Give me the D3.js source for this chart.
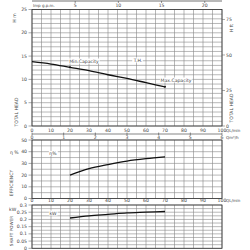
<!DOCTYPE html>
<html><head><meta charset="utf-8">
<script src="https://cdn.jsdelivr.net/npm/d3@7"></script>
<style>body{margin:0;background:#fff}svg{display:block}text{font-family:"DejaVu Sans",sans-serif;fill:#444}</style>
</head><body>
<svg id="c" width="250" height="250"></svg>
<script>
const flowLmin = [0, 10, 20, 30, 40, 50, 60, 70];
const headM = [13.8, 13.3, 12.6, 11.9, 11.0, 10.2, 9.3, 8.4];
const effFlow = [20, 30, 40, 50, 60, 70];
const effPct = [20, 25.5, 29, 32, 34, 35.5];
const powFlow = [20, 30, 40, 50, 60, 70];
const powKW = [0.21, 0.225, 0.235, 0.245, 0.25, 0.255];
const qTicks = [0, 10, 20, 30, 40, 50, 60, 70, 80, 90, 100];
const m3hTicks = [0, 1, 2, 3, 4, 5, 6];
const impTicks = [5, 10, 15, 20];
const headTicks = [0, 5, 10, 15, 20, 25];
const ftTicks = [0, 25, 50, 75];
const effTicks = [0, 10, 20, 30, 40, 50];
const powTicks = [0, 0.05, 0.1, 0.15, 0.2, 0.25, 0.3];
const powLabels = ["0", "0.05", "0.1", "0.15", "0.2", "0.25", "0.3"];

const svg = d3.select("#c");
const x = d3.scaleLinear().domain([0, 100]).range([32, 222]);
const yH = d3.scaleLinear().domain([0, 25]).range([126, 9.5]);
const yE = d3.scaleLinear().domain([0, 50]).range([198.5, 140]);
const yP = d3.scaleLinear().domain([0, 0.3]).range([248.3, 205]);
const fs = 4.6;

function panel(y, step) {
  const g = svg.append("g");
  const [y0, y1] = y.domain();
  g.selectAll(".v").data(d3.range(0, 100.01, 5)).join("line")
    .attr("x1", d => x(d)).attr("x2", d => x(d)).attr("y1", y.range()[0]).attr("y2", y.range()[1])
    .attr("stroke", "#888").attr("stroke-width", 0.6);
  g.selectAll(".h").data(d3.range(y0, y1 + step / 2, step)).join("line")
    .attr("x1", x(0)).attr("x2", x(100)).attr("y1", d => y(d)).attr("y2", d => y(d))
    .attr("stroke", "#888").attr("stroke-width", 0.6);
  g.append("rect").attr("x", x(0)).attr("y", y.range()[1]).attr("width", x(100) - x(0))
    .attr("height", y.range()[0] - y.range()[1]).attr("fill", "none").attr("stroke", "#333").attr("stroke-width", 0.8);
  return g;
}
panel(yH, 1);
panel(yE, 5);
panel(yP, 0.025);

function leftLabels(y, ticks, labels) {
  svg.append("g").selectAll("text").data(ticks).join("text")
    .attr("x", 27).attr("y", d => y(d) + 1.6).attr("text-anchor", "end").attr("font-size", fs)
    .text((d, i) => labels ? labels[i] : d);
  svg.append("g").selectAll("line").data(ticks).join("line")
    .attr("x1", 28.5).attr("x2", x(0)).attr("y1", d => y(d)).attr("y2", d => y(d)).attr("stroke", "#555").attr("stroke-width", 0.5);
}
leftLabels(yH, headTicks);
leftLabels(yE, effTicks);
leftLabels(yP, powTicks, powLabels);

// right ft axis
const ftToM = 0.3048;
svg.append("g").selectAll("line").data(ftTicks).join("line")
  .attr("x1", x(100)).attr("x2", x(100) + 3).attr("y1", d => yH(d * ftToM)).attr("y2", d => yH(d * ftToM))
  .attr("stroke", "#555").attr("stroke-width", 0.5);
svg.append("g").selectAll("text").data(ftTicks).join("text")
  .attr("x", 226).attr("y", d => yH(d * ftToM) + 1.6).attr("font-size", fs).text(d => d);

function rot(tx, ty, t, size) {
  svg.append("text").attr("transform", `translate(${tx},${ty}) rotate(-90)`).attr("text-anchor", "middle")
    .attr("font-size", size || fs).text(t);
}
rot(16, 18, "H m");
rot(18, 112, "TOTAL HEAD");
rot(233, 28, "H ft");
rot(233, 108, "TOTAL HEAD");
rot(13, 183, "EFFICIENCY");
rot(13, 231, "SHAFT POWER", 4.2);
svg.append("text").attr("x", 10).attr("y", 154).attr("font-size", fs).text("η %");
svg.append("text").attr("x", 9).attr("y", 211).attr("font-size", fs).text("kW");

// top Imp gpm axis
svg.append("line").attr("x1", x(0)).attr("x2", x(100)).attr("y1", 1).attr("y2", 1).attr("stroke", "#333").attr("stroke-width", 0.7);
const imp = 4.546;
svg.append("g").selectAll("line").data(impTicks).join("line")
  .attr("x1", d => x(d * imp)).attr("x2", d => x(d * imp)).attr("y1", 1).attr("y2", 3).attr("stroke", "#333").attr("stroke-width", 0.5);
svg.append("g").selectAll("text").data(impTicks).join("text")
  .attr("x", d => x(d * imp)).attr("y", 6.5).attr("text-anchor", "middle").attr("font-size", fs).text(d => d);
svg.append("text").attr("x", 33).attr("y", 6.5).attr("font-size", fs - 0.6).text("Imp g.p.m.");

// bottom axes of top panel
function qLabels(yy) {
  svg.append("g").selectAll("text").data(qTicks).join("text")
    .attr("x", d => x(d)).attr("y", yy).attr("text-anchor", "middle").attr("font-size", fs).text(d => d);
  svg.append("text").attr("x", 226).attr("y", yy).attr("font-size", fs - 0.6).text("QL/min");
}
qLabels(131.5);
qLabels(202);
svg.append("line").attr("x1", x(0)).attr("x2", x(100)).attr("y1", 134).attr("y2", 134).attr("stroke", "#333").attr("stroke-width", 0.6);
svg.append("g").selectAll("line").data(m3hTicks).join("line")
  .attr("x1", d => x(d * 100 / 6)).attr("x2", d => x(d * 100 / 6)).attr("y1", 132.5).attr("y2", 135.5).attr("stroke", "#333").attr("stroke-width", 0.5);
svg.append("g").selectAll("text").data(m3hTicks).join("text")
  .attr("x", d => x(d * 100 / 6)).attr("y", 139).attr("text-anchor", "middle").attr("font-size", fs).text(d => d);
svg.append("text").attr("x", 226).attr("y", 139).attr("font-size", fs - 0.6).text("Qm³/h");

// curves
const line = (y) => d3.line().x(d => x(d[0])).y(d => y(d[1])).curve(d3.curveMonotoneX);
svg.append("path").datum(flowLmin.map((q, i) => [q, headM[i]])).attr("d", line(yH))
  .attr("fill", "none").attr("stroke", "#111").attr("stroke-width", 1.3);
svg.append("path").datum(effFlow.map((q, i) => [q, effPct[i]])).attr("d", line(yE))
  .attr("fill", "none").attr("stroke", "#111").attr("stroke-width", 1.3);
svg.append("path").datum(powFlow.map((q, i) => [q, powKW[i]])).attr("d", line(yP))
  .attr("fill", "none").attr("stroke", "#111").attr("stroke-width", 1.3);

// annotations
const white = (tx, ty, t) => {
  const tt = svg.append("text").attr("x", tx).attr("y", ty).attr("font-size", fs).attr("text-anchor", "middle").text(t);
  const b = tt.node().getBBox();
  svg.insert("rect", () => tt.node()).attr("x", b.x - 0.5).attr("y", b.y).attr("width", b.width + 1).attr("height", b.height).attr("fill", "#fff");
};
white(84, 62.5, "Min.Capacity");
white(138, 61.5, "T.H.");
white(176, 81.5, "Max.Capacity");
white(53, 155, "η%");
white(53, 214.5, "kW");
svg.append("circle").attr("cx", x(20)).attr("cy", yH(headM[2])).attr("r", 1).attr("fill", "#111");
svg.append("circle").attr("cx", x(70)).attr("cy", yH(headM[7])).attr("r", 1).attr("fill", "#111");
</script>
</body></html>
